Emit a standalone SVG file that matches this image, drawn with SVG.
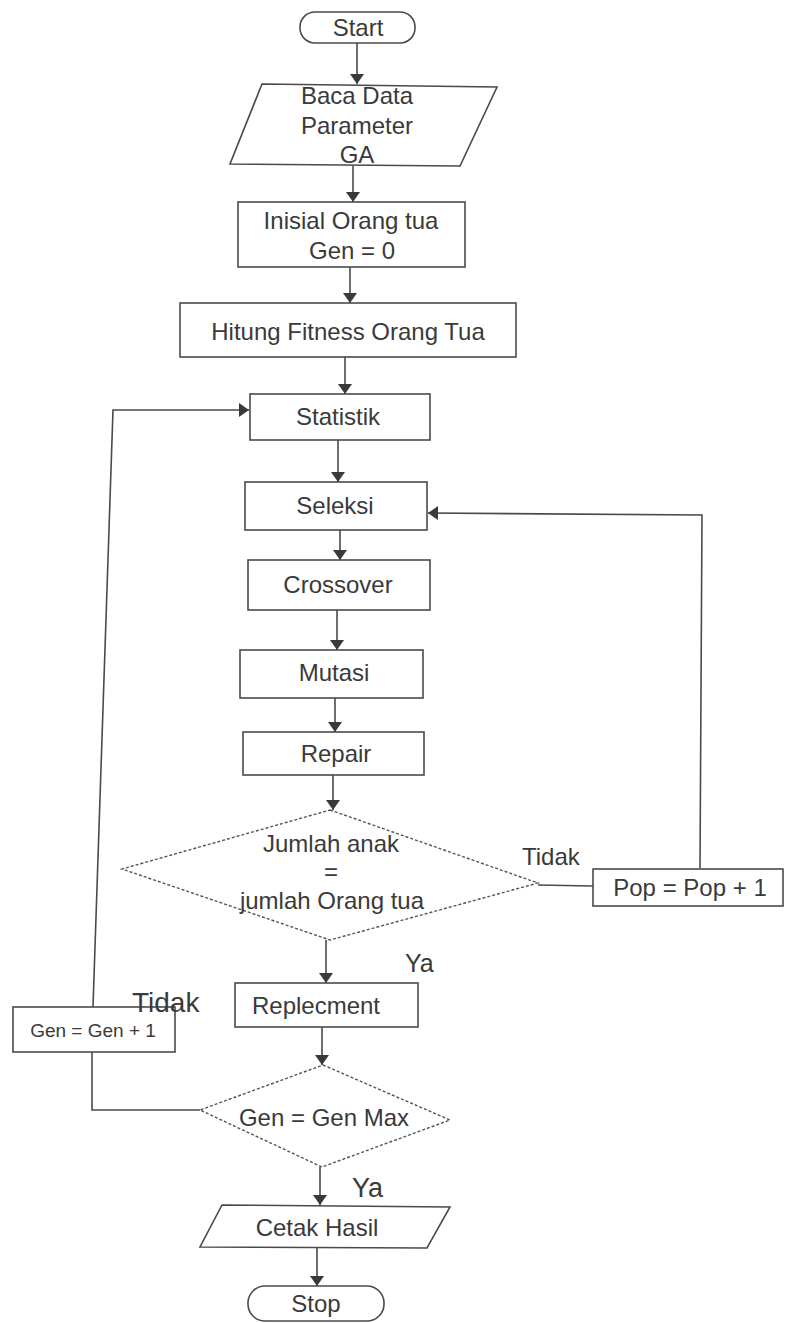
<svg xmlns="http://www.w3.org/2000/svg" width="786" height="1323" viewBox="0 0 786 1323">
<style>
  .shape { fill: #ffffff; stroke: #4a4a4a; stroke-width: 1.6; }
  .dec { fill: #ffffff; stroke: #555; stroke-width: 1.4; stroke-dasharray: 3 2; }
  .t { font-family: "Liberation Sans", Arial, sans-serif; font-size: 24px; fill: #3a3a3a; text-anchor: middle; }
  .lbl { font-family: "Liberation Sans", Arial, sans-serif; fill: #3a3a3a; }
  .conn { fill: none; stroke: #4a4a4a; stroke-width: 1.6; }
</style>
<defs>
  <marker id="arr" viewBox="0 0 10 14" refX="10" refY="7" markerWidth="10" markerHeight="14" markerUnits="userSpaceOnUse" orient="auto">
    <path d="M0,0 L10,7 L0,14 Z" fill="#3a3a3a"/>
  </marker>
</defs>
<rect width="786" height="1323" fill="#ffffff"/>

<g id="connectors">
  <path class="conn" d="M357,43 L357,84" marker-end="url(#arr)"/>
  <path class="conn" d="M353,166 L353,202" marker-end="url(#arr)"/>
  <path class="conn" d="M350,267 L350,303" marker-end="url(#arr)"/>
  <path class="conn" d="M345,357 L345,394" marker-end="url(#arr)"/>
  <path class="conn" d="M338,440 L338,482" marker-end="url(#arr)"/>
  <path class="conn" d="M340,530 L340,560" marker-end="url(#arr)"/>
  <path class="conn" d="M337,610 L337,650" marker-end="url(#arr)"/>
  <path class="conn" d="M335,698 L335,732" marker-end="url(#arr)"/>
  <path class="conn" d="M333,775 L333,810" marker-end="url(#arr)"/>
  <path class="conn" d="M326,940 L326,983" marker-end="url(#arr)"/>
  <path class="conn" d="M322,1027 L322,1065" marker-end="url(#arr)"/>
  <path class="conn" d="M320,1167 L320,1205" marker-end="url(#arr)"/>
  <path class="conn" d="M317,1248 L317,1286" marker-end="url(#arr)"/>
  <!-- Tidak from first decision to Pop = Pop + 1, loop back to Seleksi -->
  <path class="conn" d="M538,885 L593,886"/>
  <path class="conn" d="M700,868 L702,515 L428,513" marker-end="url(#arr)"/>
  <!-- Tidak from Gen = Gen Max to Gen = Gen + 1, loop back to Statistik -->
  <path class="conn" d="M200,1110 L92,1110 L92,1052"/>
  <path class="conn" d="M93,1007 L113,410 L249,410" marker-end="url(#arr)"/>
</g>

<g id="start">
  <rect class="shape" x="300" y="12" width="115" height="31" rx="15"/>
  <text class="t" x="358" y="36">Start</text>
</g>

<g id="baca-data">
  <polygon class="shape" points="262,84 497,87 460,166 230,164"/>
  <text class="t" x="357" y="104">Baca Data</text>
  <text class="t" x="357" y="134">Parameter</text>
  <text class="t" x="357" y="163">GA</text>
</g>

<g id="inisial">
  <rect class="shape" x="238" y="202" width="227" height="65"/>
  <text class="t" x="351" y="229">Inisial Orang tua</text>
  <text class="t" x="352" y="259">Gen = 0</text>
</g>

<g id="hitung-fitness">
  <rect class="shape" x="180" y="303" width="336" height="54"/>
  <text class="t" x="348" y="340">Hitung Fitness Orang Tua</text>
</g>

<g id="statistik">
  <rect class="shape" x="250" y="394" width="180" height="46"/>
  <text class="t" x="338" y="425">Statistik</text>
</g>

<g id="seleksi">
  <rect class="shape" x="245" y="482" width="182" height="48"/>
  <text class="t" x="335" y="514">Seleksi</text>
</g>

<g id="crossover">
  <rect class="shape" x="248" y="560" width="182" height="50"/>
  <text class="t" x="338" y="593">Crossover</text>
</g>

<g id="mutasi">
  <rect class="shape" x="240" y="650" width="183" height="48"/>
  <text class="t" x="334" y="681">Mutasi</text>
</g>

<g id="repair">
  <rect class="shape" x="243" y="732" width="181" height="43"/>
  <text class="t" x="336" y="762">Repair</text>
</g>

<g id="cek-anak">
  <polygon class="dec" points="330,810 538,883 330,940 122,869"/>
  <text class="t" x="331" y="852">Jumlah anak</text>
  <text class="t" x="331" y="880">=</text>
  <text class="t" x="332" y="909">jumlah Orang tua</text>
  <text class="lbl" x="522" y="865" font-size="24">Tidak</text>
  <text class="lbl" x="405" y="972" font-size="25">Ya</text>
</g>

<g id="pop-inc">
  <rect class="shape" x="593" y="869" width="190" height="37"/>
  <text class="t" x="690" y="896">Pop = Pop + 1</text>
</g>

<g id="replecment">
  <rect class="shape" x="235" y="983" width="183" height="44"/>
  <text class="t" x="316" y="1014">Replecment</text>
</g>

<g id="gen-inc">
  <rect class="shape" x="13" y="1007" width="162" height="45"/>
  <text class="t" x="93" y="1037" font-size="19" style="font-size:19px">Gen = Gen + 1</text>
  <text class="lbl" x="132" y="1012" font-size="28">Tidak</text>
</g>

<g id="cek-gen">
  <polygon class="dec" points="323,1065 450,1120 322,1167 200,1110"/>
  <text class="t" x="324" y="1126">Gen = Gen Max</text>
  <text class="lbl" x="352" y="1197" font-size="27">Ya</text>
</g>

<g id="cetak-hasil">
  <polygon class="shape" points="222,1205 450,1207 427,1248 200,1247"/>
  <text class="t" x="317" y="1236">Cetak Hasil</text>
</g>

<g id="stop">
  <rect class="shape" x="248" y="1286" width="136" height="35" rx="17"/>
  <text class="t" x="316" y="1312">Stop</text>
</g>
</svg>
